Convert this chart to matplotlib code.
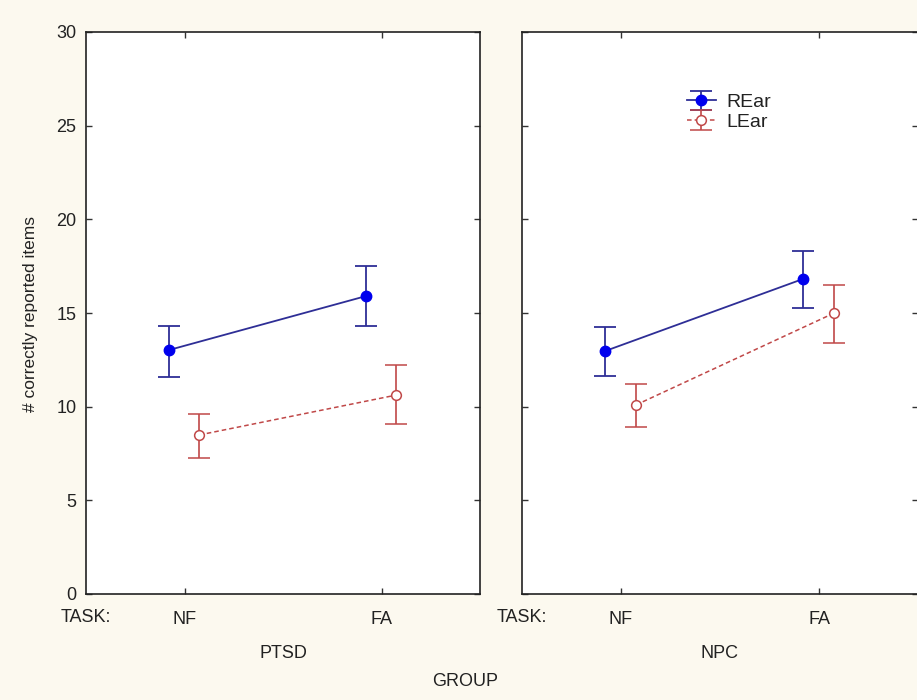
import matplotlib
matplotlib.use("Agg")
import matplotlib.pyplot as plt
import matplotlib.transforms as mtransforms
import numpy as np

plt.rcParams['font.family'] = ['Liberation Sans', 'DejaVu Sans']

# ---- data ----
tasks = ["NF", "FA"]
groups = ["PTSD", "NPC"]
series = ["REar", "LEar"]

ptsd_rear_mean = [13.02, 15.90]
ptsd_rear_low = [11.60, 14.30]
ptsd_rear_high = [14.30, 17.53]
ptsd_lear_mean = [8.49, 10.62]
ptsd_lear_low = [7.24, 9.06]
ptsd_lear_high = [9.59, 12.23]

npc_rear_mean = [12.97, 16.82]
npc_rear_low = [11.64, 15.25]
npc_rear_high = [14.27, 18.31]
npc_lear_mean = [10.09, 14.99]
npc_lear_low = [8.93, 13.39]
npc_lear_high = [11.20, 16.50]

y_ticks = [0, 5, 10, 15, 20, 25, 30]

W, H = 917, 700
fig = plt.figure(figsize=(W / 100, H / 100), dpi=100)
fig.patch.set_facecolor('#FCF9EF')

def frac_rect(x0, x1, ytop, ybot):
    return [x0 / W, 1 - ybot / H, (x1 - x0) / W, (ybot - ytop) / H]

ax1 = fig.add_axes(frac_rect(86, 480, 32, 594))
ax2 = fig.add_axes(frac_rect(522, 918, 32, 594))

blue_line = '#2E2E96'
blue_fill = '#0000EE'
red = '#C04848'
txt = '#222222'
fs = 13

data = {
    "PTSD": [(ptsd_rear_mean, ptsd_rear_low, ptsd_rear_high),
             (ptsd_lear_mean, ptsd_lear_low, ptsd_lear_high)],
    "NPC": [(npc_rear_mean, npc_rear_low, npc_rear_high),
            (npc_lear_mean, npc_lear_low, npc_lear_high)],
}

x = np.arange(len(tasks))
offsets = [-0.08, 0.075]

handles = []
for ax, g in zip([ax1, ax2], groups):
    ax.set_facecolor('white')
    for i, (m, lo, hi) in enumerate(data[g]):
        m = np.array(m); lo = np.array(lo); hi = np.array(hi)
        yerr = np.vstack([m - lo, hi - m])
        if i == 0:
            h = ax.errorbar(x + offsets[i], m, yerr=yerr, color=blue_line, ecolor=blue_line,
                            elinewidth=1.3, capsize=8, capthick=1.3, lw=1.3, ls='-',
                            marker='o', ms=7.5, mfc=blue_fill, mec=blue_fill, label=series[i], zorder=3)
        else:
            h = ax.errorbar(x + offsets[i], m, yerr=yerr, color=red, ecolor=red,
                            elinewidth=1.2, capsize=8, capthick=1.2, lw=1.1, ls=(0, (3, 2)),
                            marker='o', ms=7, mfc='white', mec=red, mew=1.1, label=series[i], zorder=3)
        if g == "PTSD":
            handles.append(h)
    ax.set_xlim(-0.5, 1.5)
    ax.set_ylim(0, 30)
    ax.set_xticks(x)
    ax.set_yticks(y_ticks)
    ax.tick_params(axis='both', direction='in', length=4, width=1, colors='#333333',
                   top=True, right=True, labelsize=fs, labelcolor=txt)
    ax.tick_params(axis='x', pad=12)
    ax.tick_params(axis='y', pad=7)
    ax.set_xticklabels(tasks)
    for s in ax.spines.values():
        s.set_color('#222222')
        s.set_linewidth(1.2)
    trans = mtransforms.blended_transform_factory(ax.transAxes, fig.transFigure)
    ax.text(0.0, 1 - 617 / H, "TASK:", transform=trans, ha='center', va='center',
            fontsize=fs, color=txt)
    ax.text(0.5, 1 - 654 / H, g, transform=trans, ha='center', va='center',
            fontsize=fs, color=txt)

ax2.tick_params(axis='y', labelleft=False)
ax2.spines['right'].set_visible(False)

fig.text(465 / W, 1 - 682 / H, "GROUP", ha='center', va='center', fontsize=fs, color=txt)
fig.text(31 / W, 1 - 314 / H, "# correctly reported items", rotation=90,
         ha='center', va='center', fontsize=12.5, color=txt)

leg = ax2.legend(handles=handles, labels=series, loc='upper left',
                 bbox_to_anchor=((673 - 522) / 396, 1 - (80 - 32) / 562),
                 frameon=False, fontsize=14, handlelength=1.5, handletextpad=0.55,
                 labelspacing=0.1, borderpad=0.2, labelcolor=txt)

fig.savefig("out.png", dpi=100, facecolor=fig.get_facecolor())
